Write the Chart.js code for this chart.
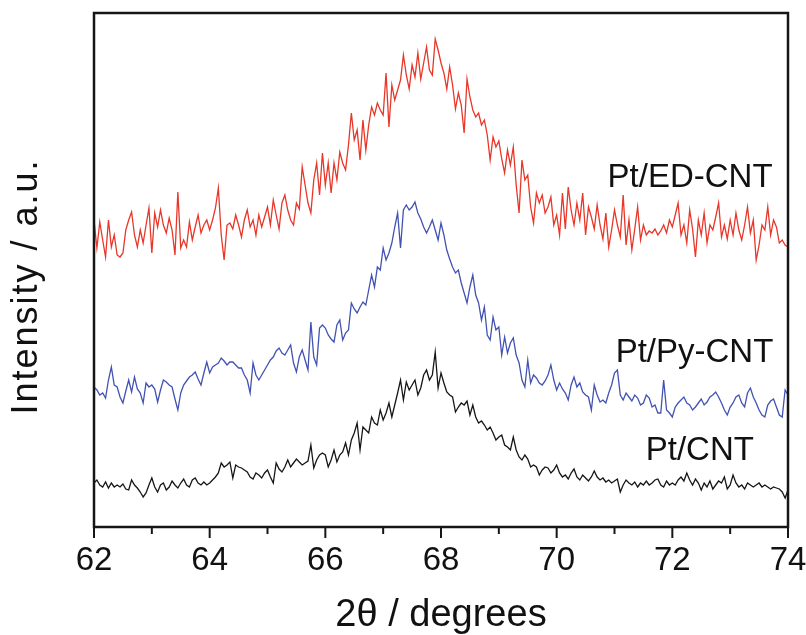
<!DOCTYPE html>
<html lang="en">
<head>
    <meta charset="UTF-8">
    <title>XRD Pt(220) region</title>
    <style>
        body { margin: 0; background: #fff; }
        canvas { display: block; }
    </style>
</head>
<body>
    <canvas id="xrdChart" width="806" height="635"></canvas>
    <script src="https://cdn.jsdelivr.net/npm/chart.js"></script>
    <script>
        // 2theta grid (degrees)
        const twoTheta = [
            62, 62.05, 62.1, 62.15, 62.2, 62.25, 62.3, 62.35, 62.4, 62.45, 62.5, 62.55, 62.6, 62.65, 62.7, 62.75, 62.8, 62.85, 62.9, 62.95,
            63, 63.05, 63.1, 63.15, 63.2, 63.25, 63.3, 63.35, 63.4, 63.45, 63.5, 63.55, 63.6, 63.65, 63.7, 63.75, 63.8, 63.85, 63.9, 63.95,
            64, 64.05, 64.1, 64.15, 64.2, 64.25, 64.3, 64.35, 64.4, 64.45, 64.5, 64.55, 64.6, 64.65, 64.7, 64.75, 64.8, 64.85, 64.9, 64.95,
            65, 65.05, 65.1, 65.15, 65.2, 65.25, 65.3, 65.35, 65.4, 65.45, 65.5, 65.55, 65.6, 65.65, 65.7, 65.75, 65.8, 65.85, 65.9, 65.95,
            66, 66.05, 66.1, 66.15, 66.2, 66.25, 66.3, 66.35, 66.4, 66.45, 66.5, 66.55, 66.6, 66.65, 66.7, 66.75, 66.8, 66.85, 66.9, 66.95,
            67, 67.05, 67.1, 67.15, 67.2, 67.25, 67.3, 67.35, 67.4, 67.45, 67.5, 67.55, 67.6, 67.65, 67.7, 67.75, 67.8, 67.85, 67.9, 67.95,
            68, 68.05, 68.1, 68.15, 68.2, 68.25, 68.3, 68.35, 68.4, 68.45, 68.5, 68.55, 68.6, 68.65, 68.7, 68.75, 68.8, 68.85, 68.9, 68.95,
            69, 69.05, 69.1, 69.15, 69.2, 69.25, 69.3, 69.35, 69.4, 69.45, 69.5, 69.55, 69.6, 69.65, 69.7, 69.75, 69.8, 69.85, 69.9, 69.95,
            70, 70.05, 70.1, 70.15, 70.2, 70.25, 70.3, 70.35, 70.4, 70.45, 70.5, 70.55, 70.6, 70.65, 70.7, 70.75, 70.8, 70.85, 70.9, 70.95,
            71, 71.05, 71.1, 71.15, 71.2, 71.25, 71.3, 71.35, 71.4, 71.45, 71.5, 71.55, 71.6, 71.65, 71.7, 71.75, 71.8, 71.85, 71.9, 71.95,
            72, 72.05, 72.1, 72.15, 72.2, 72.25, 72.3, 72.35, 72.4, 72.45, 72.5, 72.55, 72.6, 72.65, 72.7, 72.75, 72.8, 72.85, 72.9, 72.95,
            73, 73.05, 73.1, 73.15, 73.2, 73.25, 73.3, 73.35, 73.4, 73.45, 73.5, 73.55, 73.6, 73.65, 73.7, 73.75, 73.8, 73.85, 73.9, 73.95,
            74
        ];

        // intensities (a.u., curves already offset as in the figure)
        const edCnt = [
            305, 277, 303, 285, 268, 305, 278, 290, 270, 268, 272, 295, 305, 313, 290, 278, 295, 282, 300, 317,
            272, 312, 298, 315, 300, 292, 307, 295, 270, 333, 277, 285, 278, 303, 285, 298, 310, 292, 300, 305,
            295, 305, 317, 337, 290, 265, 300, 302, 296, 310, 300, 288, 305, 315, 298, 305, 290, 310, 298, 308,
            318, 300, 325, 310, 296, 322, 330, 315, 305, 300, 322, 316, 358, 340, 322, 312, 345, 362, 330, 372,
            340, 362, 332, 362, 345, 373, 362, 355, 380, 412, 385, 395, 365, 405, 375, 400, 418, 410, 422, 415,
            410, 452, 398, 440, 425, 435, 445, 470, 450, 436, 460, 448, 472, 446, 462, 478, 455, 450, 486, 475,
            462, 452, 436, 458, 440, 416, 432, 420, 392, 446, 428, 415, 408, 412, 400, 405, 390, 365, 388, 378,
            384, 366, 352, 375, 360, 378, 340, 312, 365, 345, 350, 318, 302, 332, 322, 330, 312, 318, 328, 300,
            310, 290, 332, 296, 338, 315, 300, 322, 305, 332, 290, 318, 308, 296, 320, 300, 286, 312, 278, 295,
            315, 300, 288, 330, 280, 305, 275, 296, 318, 285, 300, 290, 294, 292, 296, 290, 294, 300, 292, 305,
            298, 310, 322, 290, 300, 282, 315, 296, 268, 305, 290, 312, 282, 300, 295, 308, 322, 288, 300, 286,
            305, 290, 312, 295, 285, 300, 318, 292, 305, 265, 280, 300, 295, 318, 290, 305, 298, 282, 285, 280,
            278
        ];
        const pyCnt = [
            138, 135, 130, 132, 127, 145, 158, 140, 138, 128, 122, 134, 145, 133, 148, 136, 132, 122, 142, 138,
            140, 136, 123, 135, 145, 143, 140, 138, 126, 115, 132, 140, 144, 148, 150, 153, 146, 140, 152, 163,
            152, 158, 160, 162, 167, 164, 160, 163, 163, 160, 157, 157, 150, 145, 132, 162, 150, 145, 150, 155,
            160, 165, 168, 174, 177, 172, 170, 175, 180, 162, 153, 168, 175, 165, 155, 203, 168, 160, 197, 200,
            197, 190, 186, 183, 200, 205, 185, 192, 195, 222, 216, 212, 218, 223, 220, 235, 250, 238, 258, 255,
            277, 265, 272, 282, 298, 312, 277, 315, 320, 315, 318, 323, 312, 306, 298, 292, 298, 305, 295, 285,
            302, 290, 275, 266, 258, 252, 255, 242, 232, 222, 238, 250, 230, 222, 205, 218, 190, 185, 208, 195,
            198, 170, 188, 172, 182, 187, 170, 162, 145, 138, 165, 142, 150, 147, 142, 140, 144, 150, 160, 145,
            135, 142, 136, 132, 125, 140, 148, 138, 142, 133, 130, 128, 115, 140, 130, 123, 125, 122, 132, 140,
            152, 155, 130, 125, 132, 128, 124, 130, 127, 120, 122, 130, 127, 118, 120, 112, 112, 145, 115, 112,
            108, 118, 122, 125, 128, 122, 120, 115, 118, 122, 126, 120, 123, 128, 130, 133, 128, 122, 115, 110,
            118, 122, 128, 130, 122, 118, 132, 137, 128, 122, 115, 110, 108, 120, 124, 126, 118, 110, 108, 135,
            130
        ];
        const cnt = [
            42, 45, 40, 38, 43, 37, 42, 38, 40, 38, 41, 36, 35, 45, 40, 37, 33, 28, 32, 40,
            47, 38, 33, 40, 42, 35, 38, 44, 40, 37, 42, 46, 40, 38, 45, 47, 42, 40, 43, 40,
            42, 45, 48, 52, 62, 58, 60, 63, 47, 60, 58, 57, 55, 53, 48, 46, 52, 50, 47, 52,
            55, 48, 42, 62, 56, 53, 58, 65, 58, 62, 66, 63, 60, 62, 64, 80, 57, 65, 70, 72,
            70, 58, 65, 75, 63, 70, 73, 82, 70, 85, 92, 102, 75, 98, 95, 92, 108, 102, 100, 115,
            105, 112, 122, 108, 120, 132, 145, 125, 143, 135, 140, 145, 130, 137, 150, 155, 145, 150, 173, 137,
            152, 142, 133, 130, 128, 113, 118, 122, 120, 124, 110, 120, 108, 102, 104, 100, 95, 98, 92, 85,
            88, 90, 80, 78, 75, 88, 75, 68, 65, 70, 66, 58, 60, 58, 50, 55, 58, 57, 52, 55,
            60, 52, 48, 50, 46, 52, 56, 48, 45, 50, 47, 44, 48, 54, 48, 45, 47, 43, 45, 42,
            44, 46, 33, 40, 45, 42, 40, 43, 38, 42, 40, 44, 40, 42, 45, 46, 40, 38, 44, 40,
            42, 40, 45, 48, 44, 52, 45, 40, 46, 42, 35, 42, 38, 44, 36, 40, 44, 42, 48, 36,
            40, 50, 42, 38, 40, 36, 42, 40, 38, 40, 42, 38, 40, 38, 36, 38, 37, 36, 33, 27,
            35
        ];

        const seriesNames = ['Pt/ED-CNT', 'Pt/Py-CNT', 'Pt/CNT'];
        const xTickLabels = [62, 64, 66, 68, 70, 72, 74];

        // where the curve names sit (data units: left edge, baseline)
        const nameSpots = [[70.88, 338], [71.02, 163], [71.54, 65]];
        const lineColors = ['rgb(232, 54, 40)', 'rgb(66, 82, 178)', '#161616'];

        Chart.defaults.font.family = "'Liberation Sans', Arial, sans-serif";
        Chart.defaults.color = '#111';

        function toPoints(values) {
            const pts = [];
            for (let i = 0; i < twoTheta.length && i < values.length; i++) {
                pts.push({ x: twoTheta[i], y: values[i] });
            }
            return pts;
        }

        // frame, tick marks, y title and curve names
        const decorations = {
            id: 'decorations',
            afterDraw(chart) {
                const { ctx, chartArea: a, scales: { x, y } } = chart;
                ctx.save();
                ctx.strokeStyle = '#161616';
                ctx.lineWidth = 2.5;
                ctx.strokeRect(a.left, a.top, a.right - a.left, a.bottom - a.top);

                ctx.lineWidth = 2;
                x.ticks.forEach(t => {
                    const px = x.getPixelForValue(t.value);
                    const len = xTickLabels.includes(t.value) ? 11 : 7;
                    ctx.beginPath();
                    ctx.moveTo(px, a.bottom);
                    ctx.lineTo(px, a.bottom + len);
                    ctx.stroke();
                });

                ctx.fillStyle = '#111';
                ctx.save();
                ctx.translate(37, 286.5);
                ctx.rotate(-Math.PI / 2);
                ctx.font = "36px 'Liberation Sans', Arial, sans-serif";
                ctx.letterSpacing = '2px';
                ctx.textAlign = 'center';
                ctx.textBaseline = 'alphabetic';
                ctx.fillText('Intensity / a.u.', 0, 0);
                ctx.restore();

                ctx.font = "33px 'Liberation Sans', Arial, sans-serif";
                ctx.textAlign = 'left';
                ctx.textBaseline = 'alphabetic';
                seriesNames.forEach((name, i) => {
                    ctx.fillText(name, x.getPixelForValue(nameSpots[i][0]), y.getPixelForValue(nameSpots[i][1]));
                });
                ctx.restore();
            }
        };

        new Chart(document.getElementById('xrdChart'), {
            type: 'line',
            data: {
                datasets: [
                    { label: seriesNames[2], data: toPoints(cnt), borderColor: lineColors[2] },
                    { label: seriesNames[1], data: toPoints(pyCnt), borderColor: lineColors[1] },
                    { label: seriesNames[0], data: toPoints(edCnt), borderColor: lineColors[0] }
                ]
            },
            options: {
                responsive: false,
                animation: false,
                elements: {
                    line: { borderWidth: 1.3, tension: 0 },
                    point: { radius: 0 }
                },
                layout: { padding: { left: 94, right: 18, top: 13, bottom: 0 } },
                plugins: {
                    legend: { display: false },
                    tooltip: { enabled: false }
                },
                scales: {
                    x: {
                        type: 'linear',
                        min: 62,
                        max: 74,
                        grid: { display: false, drawTicks: false },
                        border: { display: false },
                        ticks: {
                            stepSize: 1,
                            autoSkip: false,
                            maxRotation: 0,
                            padding: 14,
                            font: { size: 33 },
                            callback: v => xTickLabels.includes(v) ? String(v) : ''
                        },
                        title: {
                            display: true,
                            text: '2θ / degrees',
                            font: { size: 38 },
                            padding: { top: 12, bottom: -3 }
                        },
                        afterFit(scale) {
                            // keep the plot box where the figure has it
                            scale.height = 108;
                            scale.paddingLeft = 0;
                            scale.paddingRight = 0;
                        }
                    },
                    y: { display: false, min: -2, max: 512 }
                }
            },
            plugins: [decorations]
        });
    </script>
</body>
</html>
